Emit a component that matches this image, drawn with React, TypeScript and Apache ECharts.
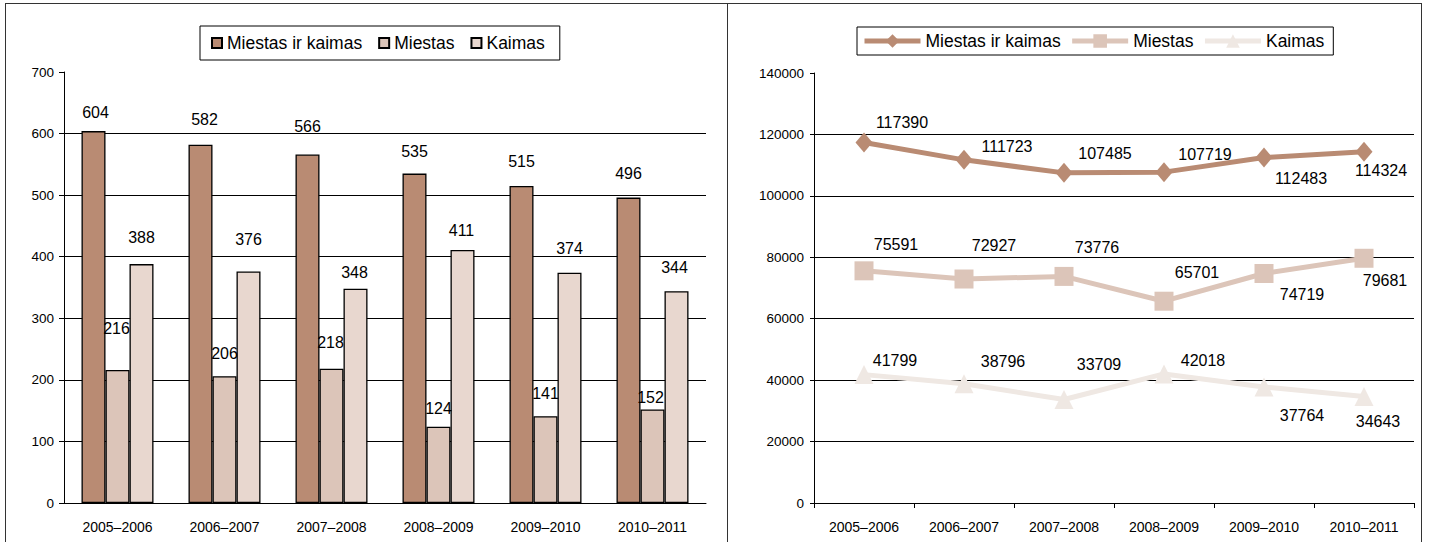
import React, { useEffect, useRef } from "react";
import * as echarts from "echarts";

const categories = ["2005–2006", "2006–2007", "2007–2008", "2008–2009", "2009–2010", "2010–2011"];
const seriesNames = ["Miestas ir kaimas", "Miestas", "Kaimas"];
// left chart (bars)
const barTotal = [604, 582, 566, 535, 515, 496];
const barCity = [216, 206, 218, 124, 141, 152];
const barRural = [388, 376, 348, 411, 374, 344];
// right chart (lines)
const lineTotal = [117390, 111723, 107485, 107719, 112483, 114324];
const lineCity = [75591, 72927, 73776, 65701, 74719, 79681];
const lineRural = [41799, 38796, 33709, 42018, 37764, 34643];

const FONT = "Liberation Sans, Arial, sans-serif";
const barColors = ["#B98B73", "#DCC5B9", "#E8D7CF"];
const lineColors = ["#B98B73", "#DCC5B9", "#EFE8E3"];

function barLabelData(values: number[], shifts: number[][]) {
  return values.map((v, i) => ({
    value: v,
    label: { offset: [shifts[i][0], shifts[i][1] + 9] },
  }));
}
function lineLabelData(values: number[], shifts: number[][]) {
  return values.map((v, i) => ({
    value: v,
    label: { offset: shifts[i] },
  }));
}

export default function App() {
  const leftRef = useRef<HTMLDivElement>(null);
  const rightRef = useRef<HTMLDivElement>(null);

  useEffect(() => {
    document.body.style.margin = "0";
    const left = echarts.init(leftRef.current!, undefined, { renderer: "svg" });
    const right = echarts.init(rightRef.current!, undefined, { renderer: "svg" });

    const barShift = [
      [[2, -19], [4, -25], [0, -28], [0, -22], [0, -24], [0, -24]],
      [[-1, -42], [0, -23], [-1, -26], [0, -18], [0, -23], [-2, -12]],
      [[0, -27], [0, -32], [-1, -16], [-1, -19], [0, -24], [-2, -24]],
    ];
    const lineShift = [
      [[38, -20], [43, -13], [41, -19], [41, -18], [37, 21], [17, 19]],
      [[32, -26], [30, -34], [33, -29], [33, -29], [38, 21], [21, 22]],
      [[31, -14], [39, -22], [35, -35], [39, -13], [38, 28], [14, 25]],
    ];

    const barLabel = {
      show: true,
      position: "top",
      distance: 0,
      color: "#000",
      fontSize: 16,
      fontFamily: FONT,
      lineHeight: 18,
    };

    left.setOption({
      animation: false,
      textStyle: { fontFamily: FONT },
      legend: {
        left: 200,
        top: 26,
        padding: [8, 15, 8, 11],
        itemGap: 16,
        itemWidth: 10,
        itemHeight: 10,
        borderColor: "#000",
        borderWidth: 1,
        icon: "rect",
        data: seriesNames,
        textStyle: { fontSize: 17.5, color: "#000", fontFamily: FONT },
      },
      grid: { left: 64, right: 21, top: 72, bottom: 39 },
      xAxis: {
        type: "category",
        data: categories,
        axisLine: { lineStyle: { color: "#000", width: 1 } },
        axisTick: { show: false },
        axisLabel: { color: "#000", fontSize: 14, margin: 17, fontFamily: FONT },
      },
      yAxis: {
        type: "value",
        min: 0,
        max: 700,
        interval: 100,
        axisLine: { show: true, lineStyle: { color: "#000", width: 1 } },
        axisTick: { show: true, length: 5, lineStyle: { color: "#000" } },
        axisLabel: { color: "#000", fontSize: 13.5, margin: 10, fontFamily: FONT },
        splitLine: { show: true, showMaxLine: false, lineStyle: { color: "#000", width: 1 } },
      },
      series: [barTotal, barCity, barRural].map((vals, k) => ({
        type: "bar",
        name: seriesNames[k],
        data: barLabelData(vals, barShift[k]),
        barWidth: 24,
        barGap: "0%",
        barCategoryGap: "33%",
        itemStyle: { color: barColors[k], borderColor: "#000", borderWidth: 1.3 },
        label: barLabel,
      })),
    });

    const markers = ["diamond", "rect", "triangle"];
    const markerSizes = [[17, 20], 19, [19, 19]];
    right.setOption({
      animation: false,
      textStyle: { fontFamily: FONT },
      legend: {
        left: 130,
        top: 27,
        padding: [5, 9, 5, 5],
        itemGap: 9,
        itemWidth: 56,
        itemHeight: 17,
        borderColor: "#000",
        borderWidth: 1,
        data: seriesNames,
        lineStyle: { width: 5 },
        textStyle: { fontSize: 17.5, color: "#000", fontFamily: FONT },
      },
      grid: { left: 87, right: 26, top: 73, bottom: 39 },
      xAxis: {
        type: "category",
        data: categories,
        boundaryGap: true,
        axisLine: { lineStyle: { color: "#000", width: 1 } },
        axisTick: { show: true, length: 5, lineStyle: { color: "#000" } },
        axisLabel: { color: "#000", fontSize: 14, margin: 17, fontFamily: FONT },
      },
      yAxis: {
        type: "value",
        min: 0,
        max: 140000,
        interval: 20000,
        axisLine: { show: true, lineStyle: { color: "#000", width: 1 } },
        axisTick: { show: true, length: 4, lineStyle: { color: "#000" } },
        axisLabel: {
          color: "#000",
          fontSize: 13.5,
          margin: 10,
          fontFamily: FONT,
          formatter: (v: number) => String(v),
        },
        splitLine: { show: true, showMaxLine: false, lineStyle: { color: "#000", width: 1 } },
      },
      series: [lineTotal, lineCity, lineRural].map((vals, k) => ({
        type: "line",
        name: seriesNames[k],
        data: lineLabelData(vals, lineShift[k]),
        symbol: markers[k],
        symbolSize: markerSizes[k],
        lineStyle: { color: lineColors[k], width: 5 },
        itemStyle: { color: lineColors[k] },
        label: {
          show: true,
          position: "inside",
          align: "center",
          verticalAlign: "middle",
          color: "#000",
          fontSize: 16,
          fontFamily: FONT,
        },
      })),
    });

    return () => {
      left.dispose();
      right.dispose();
    };
  }, []);

  return (
    <div style={{ position: "relative", width: 1440, height: 542, overflow: "hidden", background: "#fff" }}>
      <div
        style={{
          position: "absolute",
          left: 5,
          top: 3,
          width: 1417,
          height: 600,
          border: "1.5px solid #333",
          boxSizing: "border-box",
        }}
      />
      <div
        style={{
          position: "absolute",
          left: 727,
          top: 3,
          width: 0,
          height: 600,
          borderLeft: "1.5px solid #333",
        }}
      />
      <div ref={leftRef} style={{ position: "absolute", left: 0, top: 0, width: 727, height: 542 }} />
      <div ref={rightRef} style={{ position: "absolute", left: 727, top: 0, width: 713, height: 542 }} />
    </div>
  );
}
